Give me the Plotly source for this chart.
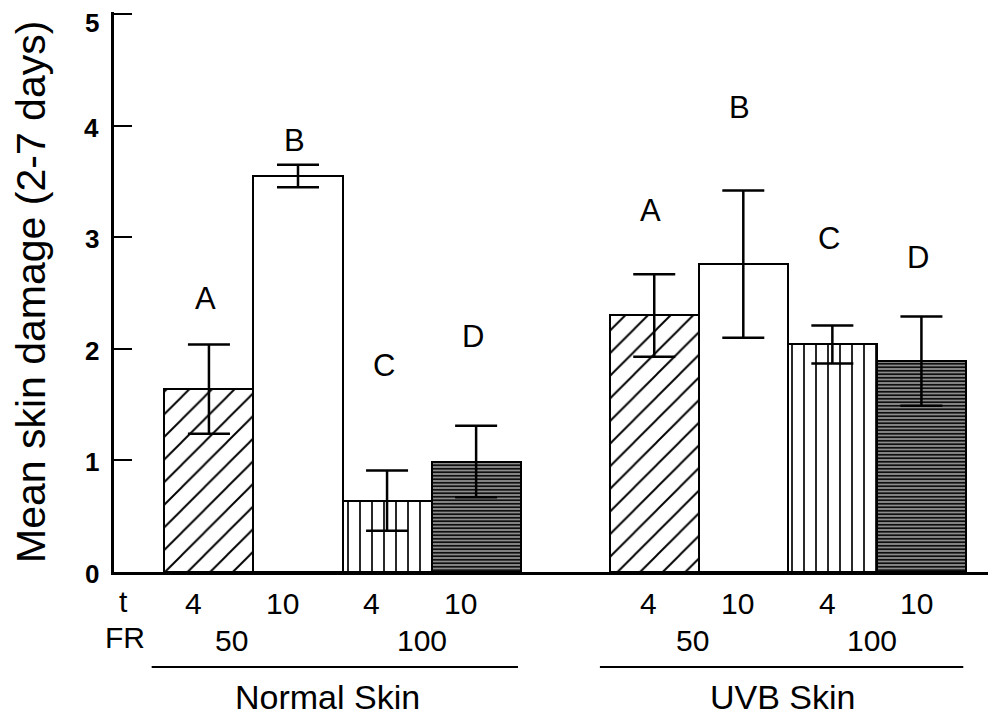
import plotly.graph_objects as go

# ---------------- data ----------------
groups = ["Normal Skin", "UVB Skin"]
letters = ["A", "B", "C", "D"]
t_values = ["4", "10", "4", "10"]
fr_values = ["50", "100"]
normal_mean = [1.64, 3.55, 0.64, 0.99]
normal_err = [0.40, 0.10, 0.27, 0.32]
uvb_mean = [2.30, 2.76, 2.04, 1.89]
uvb_err = [0.37, 0.66, 0.17, 0.40]
y_ticks = [0, 1, 2, 3, 4, 5]

# ---------------- layout helpers (positions / styles) ----------------
FONT = "Liberation Sans, Arial, Helvetica, sans-serif"
GROUP_STEP = 5
means = [normal_mean, uvb_mean]
errs = [normal_err, uvb_err]

# per-letter fill style
styles = {
    "A": dict(color="white", shape="/", size=16, solidity=0.12),
    "B": dict(color="white", shape="", size=8, solidity=0.1),
    "C": dict(color="white", shape="|", size=12, solidity=0.14),
    "D": dict(color="#8c8c8c", shape="-", size=3.5, solidity=0.45),
}

fig = go.Figure()
for i, L in enumerate(letters):
    st = styles[L]
    xs = [g * GROUP_STEP + i for g in range(len(groups))]
    ys = [means[g][i] for g in range(len(groups))]
    es = [errs[g][i] for g in range(len(groups))]
    pattern = dict(shape=st["shape"], fgcolor="black", bgcolor=st["color"],
                   size=st["size"], solidity=st["solidity"], fillmode="replace")
    fig.add_trace(go.Bar(
        x=xs, y=ys, width=1.0, name=L,
        marker=dict(color=st["color"], line=dict(color="black", width=2), pattern=pattern),
        error_y=dict(type="data", array=es, visible=True, color="black",
                     thickness=2.5, width=21),
        showlegend=False,
    ))

PLOT_H = 560
PLOT_W = 876
ann = []

# y tick labels (drawn as annotations so the top one is kept inside the page)
top_tick = max(y_ticks)
for v in y_ticks:
    ann.append(dict(x=(100 - 114) / PLOT_W, y=v, xref="paper", yref="y", text=str(v),
                    showarrow=False, xanchor="right", yanchor="middle",
                    yshift=(-9 if v == top_tick else -2), borderpad=0,
                    font=dict(size=26, color="black", family=FONT, weight="bold")))

# letters above bars
letter_y = [[2.455, 3.87, 1.85, 2.11], [3.24, 4.16, 2.99, 2.82]]
for g in range(len(groups)):
    for i, L in enumerate(letters):
        ann.append(dict(x=g * GROUP_STEP + i - 0.04, y=letter_y[g][i], xref="x", yref="y",
                        text=L, showarrow=False, xanchor="center", yanchor="middle",
                        font=dict(size=31, color="black", family=FONT)))


def py(p):  # page pixel row -> paper y
    return (572 - p) / PLOT_H


t_shift = [-0.17, -0.06]
for g in range(len(groups)):
    for i, tv in enumerate(t_values):
        ann.append(dict(x=g * GROUP_STEP + i + t_shift[g], y=py(603), xref="x", yref="paper",
                        text=tv, showarrow=False, xanchor="center", yanchor="middle",
                        font=dict(size=30, color="black", family=FONT)))
ann.append(dict(x=-0.965, y=py(601), xref="x", yref="paper", text="t", showarrow=False,
                xanchor="center", yanchor="middle",
                font=dict(size=30, color="black", family=FONT)))
ann.append(dict(x=-0.94, y=py(637), xref="x", yref="paper", text="FR", showarrow=False,
                xanchor="center", yanchor="middle",
                font=dict(size=30, color="black", family=FONT)))
fr_x = [[0.255, 2.39], [5.43, 7.44]]
for g in range(len(groups)):
    for k, fv in enumerate(fr_values):
        ann.append(dict(x=fr_x[g][k], y=py(640), xref="x", yref="paper", text=fv,
                        showarrow=False, xanchor="center", yanchor="middle",
                        font=dict(size=30, color="black", family=FONT)))
grp_x = [1.336, 6.445]
for g, name in enumerate(groups):
    ann.append(dict(x=grp_x[g], y=py(697), xref="x", yref="paper", text=name,
                    showarrow=False, xanchor="center", yanchor="middle", borderpad=0,
                    font=dict(size=34, color="black", family=FONT)))

# y-axis title
ann.append(dict(x=(31 - 114) / PLOT_W, y=py(292), xref="paper", yref="paper",
                text="Mean skin damage (2-7 days)", textangle=-90, showarrow=False,
                xanchor="center", yanchor="middle", borderpad=0,
                font=dict(size=41, color="black", family=FONT)))

line_span = [[-0.643, 3.47], [4.39, 8.47]]
shapes = []
for g in range(len(groups)):
    shapes.append(dict(type="line", xref="x", yref="paper",
                       x0=line_span[g][0], x1=line_span[g][1], y0=py(667), y1=py(667),
                       line=dict(color="black", width=2)))

fig.update_layout(
    width=988, height=709,
    margin=dict(l=106, r=6, t=4, b=145),
    paper_bgcolor="white", plot_bgcolor="white",
    annotations=ann, shapes=shapes,
    barmode="overlay", bargap=0,
    xaxis=dict(range=[-1.066, 8.77], showline=True, linecolor="black", linewidth=2.5,
               showticklabels=False, ticks="", showgrid=False, zeroline=False),
    yaxis=dict(range=[0, 5.02], showline=True, linecolor="black", linewidth=2.5,
               tickvals=y_ticks, showticklabels=False,
               ticks="inside", ticklen=18, tickwidth=2, tickcolor="black",
               showgrid=False, zeroline=False),
)

fig.write_html("out.html")
